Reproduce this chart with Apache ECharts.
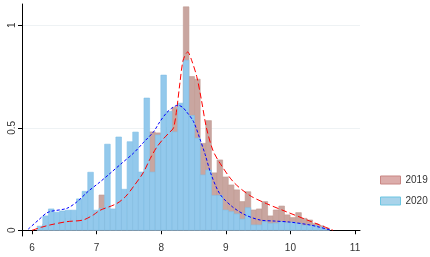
<!DOCTYPE html>
<html>
<head>
<meta charset="utf-8">
<script src="https://cdn.jsdelivr.net/npm/echarts@6/dist/echarts.min.js"></script>
<style>
html, body { margin: 0; padding: 0; background: #fff; }
#chart { width: 430px; height: 257px; }
</style>
</head>
<body>
<div id="chart"></div>
<script>
// histogram bins (shared by both years)
var binStart = 6.08;
var binWidth = 0.087;

// density per bin, 2019
var dens2019 = [0.01, 0.03, 0.04, 0.05, 0.05, 0.06, 0.06, 0.07, 0.07, 0.08,
                0.09, 0.172, 0.10, 0.09, 0.12, 0.14, 0.17, 0.21, 0.25, 0.30,
                0.48, 0.475, 0.44, 0.50, 0.60, 0.58, 1.09, 0.75, 0.737, 0.424,
                0.535, 0.28, 0.343, 0.26, 0.221, 0.197, 0.14, 0.188, 0.099, 0.104,
                0.14, 0.07, 0.099, 0.118, 0.075, 0.062, 0.086, 0.058, 0.05, 0.032,
                0.022, 0.01];

// density per bin, 2020
var dens2020 = [0.02, 0.07, 0.104, 0.088, 0.094, 0.098, 0.098, 0.153, 0.19, 0.283,
                0.098, 0.107, 0.42, 0.104, 0.455, 0.20, 0.432, 0.479, 0.284, 0.645,
                0.284, 0.465, 0.757, 0.58, 0.48, 0.62, 0.83, 0.56, 0.45, 0.27,
                0.294, 0.17, 0.17, 0.099, 0.091, 0.08, 0.055, 0.11, 0.026, 0.026,
                0.042, 0.034, 0.035, 0.042, 0.037, 0.04, 0.034, 0.025, 0.025, 0.022,
                0.015, 0.005];

// kernel density curves [x, density]
var kde2019 = [[6.0, 0.0], [6.15, 0.015], [6.28, 0.026], [6.54, 0.042], [6.79, 0.05],
               [6.95, 0.075], [7.05, 0.097], [7.31, 0.13], [7.45, 0.165], [7.57, 0.213],
               [7.72, 0.28], [7.83, 0.35], [7.93, 0.405], [8.03, 0.445], [8.12, 0.475],
               [8.19, 0.5], [8.24, 0.59], [8.29, 0.72], [8.34, 0.83], [8.41, 0.87],
               [8.47, 0.83], [8.55, 0.75], [8.62, 0.64], [8.7, 0.5], [8.8, 0.39],
               [8.91, 0.327], [9.12, 0.235], [9.37, 0.17], [9.63, 0.13], [9.94, 0.09],
               [10.3, 0.045], [10.5, 0.02], [10.66, 0.0]];

var kde2020 = [[5.94, 0.005], [6.1, 0.05], [6.25, 0.088], [6.54, 0.107], [6.7, 0.14],
               [6.87, 0.19], [7.05, 0.235], [7.21, 0.278], [7.4, 0.33], [7.57, 0.376],
               [7.73, 0.43], [7.88, 0.48], [7.98, 0.53], [8.08, 0.572], [8.16, 0.595],
               [8.26, 0.61], [8.33, 0.6], [8.39, 0.579], [8.5, 0.53], [8.6, 0.445],
               [8.68, 0.37], [8.77, 0.275], [8.91, 0.176], [9.1, 0.115], [9.3, 0.075],
               [9.53, 0.05], [9.75, 0.045], [9.99, 0.04], [10.3, 0.026], [10.45, 0.015],
               [10.61, 0.002]];

var xTicks = [6, 7, 8, 9, 10, 11];
var yTicks = [0, 0.5, 1];
var yTickLabels = ['0', '0.5', '1'];

var col2019 = '#c9a6a0';
var col2020 = '#93c9ec';

function toBins(dens) {
    return dens.map(function (h, i) {
        return [binStart + i * binWidth, binStart + (i + 1) * binWidth, h];
    });
}

function renderBar(fill, stroke) {
    return function (params, api) {
        var p0 = api.coord([api.value(0), api.value(2)]);
        var p1 = api.coord([api.value(1), 0]);
        return {
            type: 'rect',
            shape: { x: p0[0], y: p0[1], width: p1[0] - p0[0], height: p1[1] - p0[1] },
            style: { fill: fill, stroke: stroke, lineWidth: 0.6 }
        };
    };
}

var myChart = echarts.init(document.getElementById('chart'));

var option = {
    animation: false,
    backgroundColor: '#fff',
    textStyle: { fontFamily: 'Liberation Sans, Arial, sans-serif' },
    grid: { left: 22, right: 70, top: 4, bottom: 21 },
    legend: {
        orient: 'vertical',
        left: 375,
        top: 170,
        itemWidth: 20,
        itemHeight: 8,
        itemGap: 11,
        icon: 'rect',
        textStyle: { fontSize: 10, color: '#333' },
        data: [
            { name: '2019', itemStyle: { color: '#dcadab', borderColor: '#c98683', borderWidth: 1 } },
            { name: '2020', itemStyle: { color: '#a9d3ea', borderColor: '#6cc6e2', borderWidth: 1 } }
        ]
    },
    xAxis: {
        type: 'value',
        min: 5.845,
        max: 11.077,
        axisLine: { lineStyle: { color: '#000', width: 1 } },
        axisTick: { show: true, length: 4, customValues: xTicks, lineStyle: { color: '#000' } },
        axisLabel: { customValues: xTicks, fontSize: 10, color: '#333', margin: 7 },
        splitLine: { show: false }
    },
    yAxis: {
        type: 'value',
        min: -0.028,
        max: 1.104,
        axisLine: { show: true, lineStyle: { color: '#000', width: 1 } },
        axisTick: { show: true, length: 4, customValues: yTicks, lineStyle: { color: '#000' } },
        axisLabel: {
            customValues: yTicks,
            rotate: 90,
            fontSize: 10,
            color: '#333',
            margin: 5,
            formatter: function (v) {
                var i = yTicks.indexOf(v);
                return i >= 0 ? yTickLabels[i] : '';
            }
        },
        splitLine: { show: true, lineStyle: { color: '#eef2f4', width: 1 } }
    },
    series: [
        {
            name: '2019',
            type: 'custom',
            renderItem: renderBar(col2019, '#bf9890'),
            encode: { x: [0, 1], y: 2 },
            data: toBins(dens2019),
            z: 2
        },
        {
            name: '2020',
            type: 'custom',
            renderItem: renderBar(col2020, '#82bfe6'),
            encode: { x: [0, 1], y: 2 },
            data: toBins(dens2020),
            z: 3
        },
        {
            name: 'kde2019',
            type: 'line',
            data: kde2019,
            showSymbol: false,
            symbol: 'none',
            smooth: 0.3,
            lineStyle: { color: '#ff0000', width: 1, type: [6, 3] },
            z: 5
        },
        {
            name: 'kde2020',
            type: 'line',
            data: kde2020,
            showSymbol: false,
            symbol: 'none',
            smooth: 0.3,
            lineStyle: { color: '#0000ff', width: 1, type: [3, 2] },
            z: 6
        }
    ]
};

myChart.setOption(option);
</script>
</body>
</html>
